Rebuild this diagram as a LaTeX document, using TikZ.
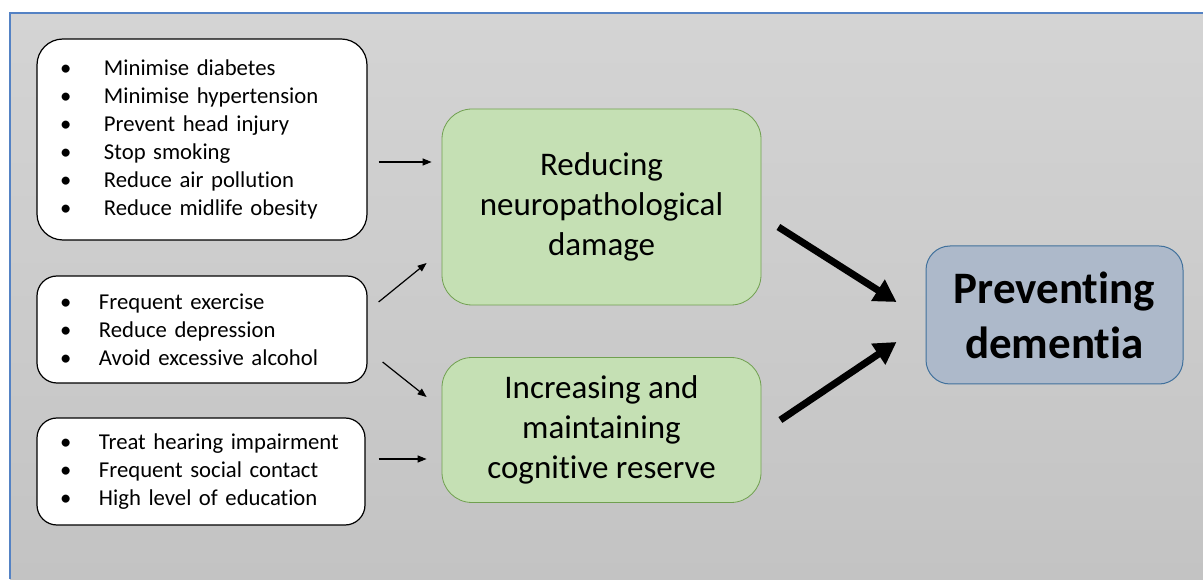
\documentclass[tikz,border=0pt]{standalone}
\usepackage{fontspec}
\setmainfont{Carlito}[RawFeature={-liga;-clig;-calt;-dlig;-rlig}]
\usetikzlibrary{arrows.meta,calc}

\definecolor{paneltop}{RGB}{212,212,212}
\definecolor{panelbot}{RGB}{195,195,195}
\definecolor{panelline}{RGB}{84,130,196}
\definecolor{effectfill}{RGB}{197,224,180}
\definecolor{effectline}{RGB}{112,160,80}
\definecolor{goalfill}{RGB}{173,185,202}
\definecolor{goalline}{RGB}{65,113,156}

\newcommand{\riskitem}[2][44pt]{\mbox{\makebox[#1][l]{\textbullet}#2}}

\tikzset{
  riskbox/.style={draw=black,line width=1.2pt,fill=white,rounded corners=20pt,
    inner xsep=23pt,inner ysep=0pt,text width=284pt,align=left,minimum height=107pt,
    font=\fontsize{22.7}{28}\selectfont},
  effectbox/.style={draw=effectline,line width=0.8pt,fill=effectfill,rounded corners=30pt,
    inner sep=0pt,minimum width=319pt,align=center,font=\fontsize{33}{40}\selectfont},
  goalbox/.style={draw=goalline,line width=1pt,fill=goalfill,rounded corners=24pt,
    inner sep=0pt,minimum width=257pt,minimum height=138pt,align=center,
    font=\bfseries\fontsize{45}{55}\selectfont},
  thin/.style={-{Triangle[length=9pt,width=7pt]},line width=1.2pt},
  thick/.style={-{Triangle[length=22pt,width=24pt]},line width=7pt}
}

\begin{document}
\begin{tikzpicture}[x=1pt,y=1pt]
  \useasboundingbox (0,0) rectangle (1203,579);
  % panel
  \shade[top color=paneltop,bottom color=panelbot] (10,0) rectangle (1203,566);
  \draw[panelline,line width=2pt] (10,0) -- (10,566) -- (1203,566);

  % risk factors
  \node[riskbox,minimum height=201pt,rounded corners=26pt] (metab) at (202,439.5)
    {\riskitem{Minimise diabetes}\\ \riskitem{Minimise hypertension}\\
     \riskitem{Prevent head injury}\\ \riskitem{Stop smoking}\\
     \riskitem{Reduce air pollution}\\ \riskitem{Reduce midlife obesity}};
  \node[riskbox] (life) at (202,249.5)
    {\riskitem[39pt]{Frequent exercise}\\ \riskitem[39pt]{Reduce depression}\\
     \riskitem[39pt]{Avoid excessive alcohol}};
  \node[riskbox,text width=282pt] (social) at (201,107.5)
    {\riskitem[39pt]{Treat hearing impairment}\\ \riskitem[39pt]{Frequent social contact}\\
     \riskitem[39pt]{High level of education}};

  % mechanisms
  \node[effectbox,minimum height=196pt] (damage) at (601.5,372)
    {Reducing\\ neuropathological\\ damage};
  \node[effectbox,minimum height=145pt] (reserve) at (601.5,149)
    {Increasing and\\ maintaining\\ cognitive reserve};

  % outcome
  \node[goalbox] (dementia) at (1054.5,264) {Preventing\\ dementia};

  \draw[thin] ($(metab.east)+(11,-22.5)$) -- ($(damage.west)+(-10,45)$);
  \draw[thin] ($(life.east)+(11,27.5)$) -- ($(damage.west)+(-15,-56)$);
  \draw[thin] ($(life.east)+(15,-32.5)$) -- ($(reserve.west)+(-15,33)$);
  \draw[thin] ($(social.east)+(13,12.5)$) -- ($(reserve.west)+(-15,-29)$);

  \draw[thick] ($(damage.east)+(17,-20)$) -- ($(dementia.west)+(-29,13)$);
  \draw[thick] ($(reserve.east)+(19,10)$) -- ($(dementia.west)+(-29,-27)$);
\end{tikzpicture}
\end{document}
